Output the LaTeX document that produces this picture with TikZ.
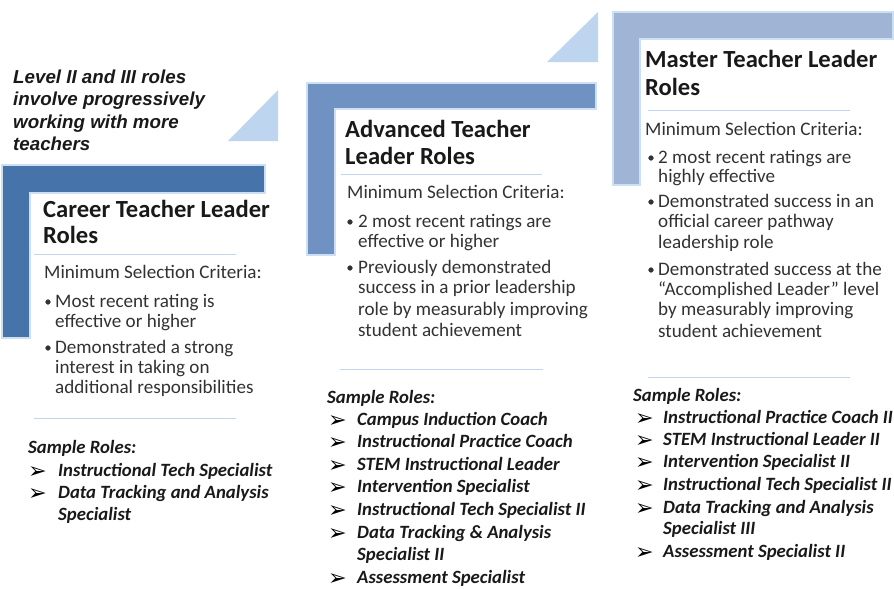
\documentclass[tikz,border=0pt]{standalone}
\usepackage{fontspec}
\setmainfont{Carlito}
\newfontfamily\headfont{Liberation Sans}
\newfontfamily\symfont{DejaVu Sans}
\definecolor{careerblue}{RGB}{70,116,170}
\definecolor{advblue}{RGB}{112,146,194}
\definecolor{masterblue}{RGB}{160,181,214}
\definecolor{stepblue}{RGB}{189,213,238}
\definecolor{edgeblue}{RGB}{205,223,243}
\definecolor{ruleblue}{RGB}{190,214,240}
\definecolor{ink}{RGB}{25,25,25}
\definecolor{bodyink}{RGB}{50,50,50}

\begin{document}
\begin{tikzpicture}[x=0.03cm, y=-0.03cm,
    bar/.style={draw=edgeblue, line width=1pt},
    head/.style={anchor=base west, inner sep=0pt, text=ink, font=\headfont\fontsize{16}{19}\selectfont\bfseries\itshape},
    title/.style={anchor=base west, inner sep=0pt, text=ink, font=\fontsize{21}{25}\selectfont\bfseries},
    crit/.style={anchor=base west, inner sep=0pt, text=bodyink, font=\fontsize{16.3}{19}\selectfont},
    role/.style={anchor=base west, inner sep=0pt, text=ink, font=\fontsize{16}{19}\selectfont\bfseries\itshape},
    arrowmark/.style={anchor=base west, inner sep=0pt, text=black, font=\symfont\fontsize{19}{22}\selectfont},
    rule/.style={draw=ruleblue, line width=0.8pt}]

    \useasboundingbox (0,0) rectangle (894,589);

    % steps: bent bars and the small triangles between them
    \filldraw[bar, fill=careerblue] (2,165) -- (265,165) -- (265,193) -- (30,193) -- (30,338) -- (2,338) -- cycle;
    \filldraw[bar, fill=advblue] (307,83) -- (596,83) -- (596,109) -- (335,109) -- (335,255) -- (307,255) -- cycle;
    \filldraw[bar, fill=masterblue] (613,12) -- (893,12) -- (893,39) -- (640,39) -- (640,185) -- (613,185) -- cycle;
    \fill[stepblue] (278,90) -- (278,141) -- (228,141) -- cycle;
    \fill[stepblue] (598,12) -- (598,62) -- (547,62) -- cycle;

    % note at the top left
    \foreach \y/\t [count=\i] in {83/Level II and III roles, 105/involve progressively,
                                  128/working with more, 150/teachers}
        \node[head] (head-\i) at (13,\y) {\t};

    % level 1
    \node[title] (career-1) at (43,217) {Career Teacher Leader};
    \node[title] (career-2) at (43,243) {Roles};
    \draw[rule] (34,254) -- (236,254);
    \node[crit] (career-min) at (44,278) {Minimum Selection Criteria:};
    \foreach \y/\t [count=\i] in {307/Most recent rating is, 327/effective or higher,
                                  353/Demonstrated a strong, 373/interest in taking on,
                                  393/additional responsibilities}
        \node[crit] (career-c\i) at (55,\y) {\t};
    \filldraw[bodyink] (48,302) circle (2pt);
    \filldraw[bodyink] (48,348) circle (2pt);
    \draw[rule] (34,418) -- (236,418);
    \node[role] (career-sample) at (28,453) {Sample Roles:};
    \foreach \y in {476,498}
        \node[arrowmark] at (28,\y+2) {➢};
    \foreach \y/\t [count=\i] in {476/Instructional Tech Specialist, 498/Data Tracking and Analysis,
                                  520/Specialist}
        \node[role] (career-r\i) at (58,\y) {\t};

    % level 2
    \node[title] (adv-1) at (345,137) {Advanced Teacher};
    \node[title] (adv-2) at (345,164) {Leader Roles};
    \draw[rule] (341,174) -- (542,174);
    \node[crit] (adv-min) at (347,198) {Minimum Selection Criteria:};
    \foreach \y/\t [count=\i] in {227/2 most recent ratings are, 247/effective or higher,
                                  273/Previously demonstrated, 293/success in a prior leadership,
                                  315/role by measurably improving, 336/student achievement}
        \node[crit] (adv-c\i) at (358,\y) {\t};
    \filldraw[bodyink] (350,222) circle (2pt);
    \filldraw[bodyink] (350,268) circle (2pt);
    \draw[rule] (340,369) -- (543,369);
    \node[role] (adv-sample) at (327,403) {Sample Roles:};
    \foreach \y in {425,447,470,492,515,538,583}
        \node[arrowmark] at (328,\y+2) {➢};
    \foreach \y/\t [count=\i] in {425/Campus Induction Coach, 447/Instructional Practice Coach,
                                  470/STEM Instructional Leader, 492/Intervention Specialist,
                                  515/Instructional Tech Specialist II, 538/Data Tracking \& Analysis,
                                  560/Specialist II, 583/Assessment Specialist}
        \node[role] (adv-r\i) at (357,\y) {\t};

    % level 3
    \node[title] (master-1) at (645,67) {Master Teacher Leader};
    \node[title] (master-2) at (645,95) {Roles};
    \draw[rule] (648,110) -- (850,110);
    \node[crit] (master-min) at (645,135) {Minimum Selection Criteria:};
    \foreach \y/\t [count=\i] in {163/2 most recent ratings are, 182/highly effective,
                                  207/Demonstrated success in an, 227/official career pathway,
                                  248/leadership role, 275/Demonstrated success at the,
                                  295/“Accomplished Leader” level, 315/by measurably improving,
                                  337/student achievement}
        \node[crit] (master-c\i) at (658,\y) {\t};
    \filldraw[bodyink] (651,158) circle (2pt);
    \filldraw[bodyink] (651,202) circle (2pt);
    \filldraw[bodyink] (651,270) circle (2pt);
    \draw[rule] (648,377) -- (850,377);
    \node[role] (master-sample) at (633,401) {Sample Roles:};
    \foreach \y in {423,445,467,490,513,557}
        \node[arrowmark] at (635,\y+2) {➢};
    \foreach \y/\t [count=\i] in {423/Instructional Practice Coach II, 445/STEM Instructional Leader II,
                                  467/Intervention Specialist II, 490/Instructional Tech Specialist II,
                                  513/Data Tracking and Analysis, 534/Specialist III,
                                  557/Assessment Specialist II}
        \node[role] (master-r\i) at (663,\y) {\t};
\end{tikzpicture}
\end{document}
